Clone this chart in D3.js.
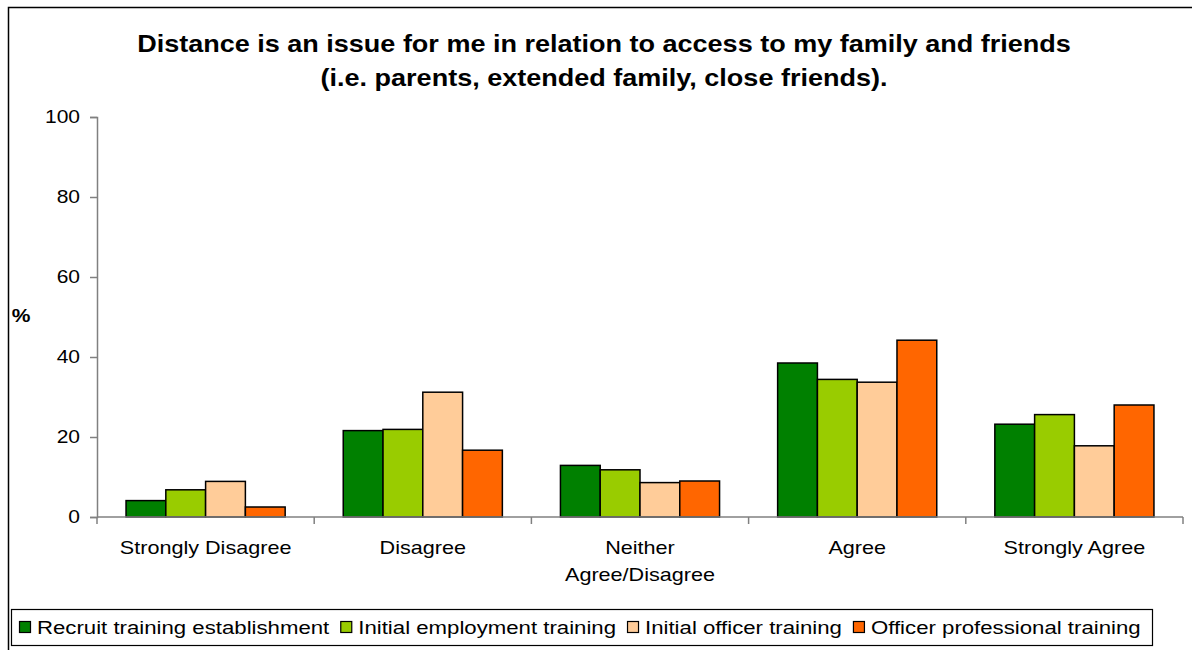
<!DOCTYPE html>
<html>
<head>
<meta charset="utf-8">
<script src="https://cdn.jsdelivr.net/npm/d3@7"></script>
<style>
  html, body { margin: 0; padding: 0; background: #fff; }
  svg { display: block; font-family: "Liberation Sans", Arial, Helvetica, sans-serif; }
</style>
</head>
<body>
<svg id="chart" width="1192" height="650"></svg>
<script>
// Survey responses (%) by training group
const categories = ["Strongly Disagree", "Disagree", "Neither\nAgree/Disagree", "Agree", "Strongly Agree"];
const seriesNames = ["Recruit training establishment", "Initial employment training", "Initial officer training", "Officer professional training"];
const recruitTraining = [4.1, 21.6, 12.9, 38.5, 23.2];
const initialEmployment = [6.8, 21.9, 11.8, 34.4, 25.6];
const initialOfficer = [8.9, 31.2, 8.6, 33.7, 17.8];
const officerProfessional = [2.5, 16.7, 9.0, 44.2, 28.0];
const yTicks = [0, 20, 40, 60, 80, 100];
const titleLines = ["Distance is an issue for me in relation to access to my family and friends",
                    "(i.e. parents, extended family, close friends)."];

const seriesValues = [recruitTraining, initialEmployment, initialOfficer, officerProfessional];
const colors = ["#008000", "#99CC00", "#FFCC99", "#FF6600"];

const svg = d3.select("#chart");
const SX = 1.2; // horizontal text stretch

// outer frame
svg.append("rect").attr("x", 8.5).attr("y", 7.5).attr("width", 1200).attr("height", 700)
  .attr("fill", "none").attr("stroke", "#000").attr("stroke-width", 1.5);

function stretchedText(parent, x, y, str, size, weight, anchor, sx) {
  const g = parent.append("g").attr("transform", `translate(${x},${y})`);
  return g.append("text")
    .attr("transform", `scale(${sx || SX},1)`)
    .attr("text-anchor", anchor || "middle")
    .attr("font-size", size)
    .attr("font-weight", weight || "normal")
    .attr("fill", "#000")
    .text(str);
}

// title
titleLines.forEach((t, i) => stretchedText(svg, 604, 52 + i * 34, t, 23.5, "bold", "middle", 1.15));

const x0 = d3.scaleBand().domain(categories).range([97, 1183]).paddingInner(0).paddingOuter(0);
const x1 = d3.scaleBand().domain(seriesNames).range([0, x0.bandwidth()]).paddingInner(0).paddingOuter(0.73);
const y = d3.scaleLinear().domain([0, 100]).range([517, 117]);

// y axis
const yAxis = svg.append("g").attr("transform", "translate(97,0)")
  .call(d3.axisLeft(y).tickValues(yTicks).tickSize(7).tickFormat(""));
yAxis.select(".domain").attr("stroke", "#808080").attr("stroke-width", 1.5);
yAxis.selectAll(".tick line").attr("stroke", "#808080").attr("stroke-width", 1.5);
yTicks.forEach(v => stretchedText(svg, 80, y(v) + 6, String(v), 17.5, "normal", "end"));

// y axis title
stretchedText(svg, 21, 322, "%", 17.5, "bold");

// bars
const groups = svg.append("g").selectAll("g")
  .data(categories).join("g")
  .attr("transform", d => `translate(${x0(d)},0)`);
groups.selectAll("rect")
  .data((d, ci) => seriesNames.map((s, si) => ({ s, si, v: seriesValues[si][ci] })))
  .join("rect")
  .attr("x", d => x1(d.s))
  .attr("y", d => y(d.v))
  .attr("width", x1.bandwidth())
  .attr("height", d => y(0) - y(d.v))
  .attr("fill", d => colors[d.si])
  .attr("stroke", "#000")
  .attr("stroke-width", 1.5);

// x axis line and category boundary ticks
svg.append("line").attr("x1", x0.range()[0]).attr("x2", x0.range()[1])
  .attr("y1", y(0)).attr("y2", y(0)).attr("stroke", "#808080").attr("stroke-width", 1.5);
const bounds = categories.map(c => x0(c)).concat([x0.range()[1]]);
svg.append("g").selectAll("line").data(bounds).join("line")
  .attr("x1", d => d).attr("x2", d => d)
  .attr("y1", y(0)).attr("y2", y(0) + 7)
  .attr("stroke", "#808080").attr("stroke-width", 1.5);

// category labels
categories.forEach(c => {
  c.split("\n").forEach((line, i) =>
    stretchedText(svg, x0(c) + x0.bandwidth() / 2, 554 + i * 27, line, 18, "normal"));
});

// legend
const legend = svg.append("g");
legend.append("rect").attr("x", 11.5).attr("y", 609.5).attr("width", 1141).attr("height", 36)
  .attr("fill", "#fff").attr("stroke", "#000").attr("stroke-width", 1.2);
let lx = 19;
seriesNames.forEach((s, i) => {
  legend.append("rect").attr("x", lx + 0.5).attr("y", 621.5).attr("width", 11).attr("height", 11)
    .attr("fill", colors[i]).attr("stroke", "#000").attr("stroke-width", 1.2);
  const t = stretchedText(legend, lx + 18, 634, s, 18.5, "normal", "start");
  lx += 18 + t.node().getComputedTextLength() * SX + 11;
});
</script>
</body>
</html>
